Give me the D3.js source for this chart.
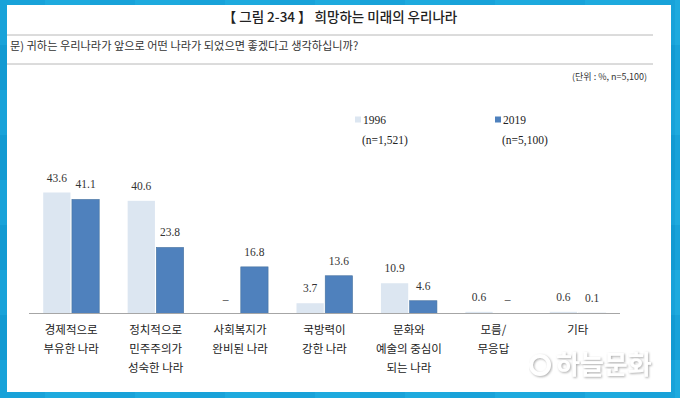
<!DOCTYPE html>
<html>
<head>
<meta charset="utf-8">
<script src="https://cdn.jsdelivr.net/npm/d3@7"></script>
<style>
  body { margin: 0; background: #1aa3da; }
  svg { display: block; }
</style>
</head>
<body>
<div id="chart"></div>
<script>
const width = 680;
const height = 398;

const categories = [
  ["경제적으로", "부유한 나라"],
  ["정치적으로", "민주주의가", "성숙한 나라"],
  ["사회복지가", "완비된 나라"],
  ["국방력이", "강한 나라"],
  ["문화와", "예술의 중심이", "되는 나라"],
  ["모름/", "무응답"],
  ["기타"]
]
const series = ["1996", "2019"]
const seriesN = ["(n=1,521)", "(n=5,100)"]
const values1996 = [43.6, 40.6, null, 3.7, 10.9, 0.6, 0.6]
const values2019 = [41.1, 23.8, 16.8, 13.6, 4.6, null, 0.1]

const colors = { "1996": "#dce6f1", "2019": "#4f81bd" }

const svg = d3.select("#chart").append("svg").attr("width", width).attr("height", height)

// blue tiled frame
const defs = svg.append("defs")
const pat = defs.append("pattern")
                .attr("id", "tiles")
                .attr("patternUnits", "userSpaceOnUse")
                .attr("width", 90)
                .attr("height", 90)
pat.append("rect").attr("width", 90).attr("height", 90).attr("fill", "#18a2d9")
pat.append("rect").attr("x", 45).attr("width", 45).attr("height", 45).attr("fill", "#1eaade")
pat.append("rect").attr("y", 45).attr("width", 45).attr("height", 45).attr("fill", "#129ad2")

svg.append("rect").attr("width", width).attr("height", height).attr("fill", "url(#tiles)")

const shadow = defs.append("filter").attr("id", "wm").attr("x", "-10%").attr("y", "-20%").attr("width", "130%").attr("height", "150%")
shadow.append("feDropShadow").attr("dx", 1).attr("dy", 1).attr("stdDeviation", 1.2).attr("flood-color", "#999").attr("flood-opacity", 0.8)

svg.append("rect")
   .attr("x", 7).attr("y", 5)
   .attr("width", 664).attr("height", 387)
   .attr("fill", "white")

// header
svg.append("text")
   .attr("x", 340).attr("y", 22)
   .attr("text-anchor", "middle")
   .style("font-family", "Noto Sans CJK KR")
   .style("font-size", "13.5px")
   .style("font-weight", 500)
   .attr("fill", "#222")
   .text("【 그림 2-34 】 희망하는 미래의 우리나라")

svg.selectAll("line.rule")
   .data([35, 64])
   .enter()
   .append("line")
   .attr("class", "rule")
   .attr("x1", 7).attr("x2", 653)
   .attr("y1", d => d).attr("y2", d => d)
   .attr("stroke", "#b8b8b8")
   .attr("stroke-width", 1)

svg.append("text")
   .attr("x", 10).attr("y", 50)
   .style("font-family", "Noto Sans CJK KR")
   .style("font-size", "11.2px")
   .attr("fill", "#333")
   .text("문) 귀하는 우리나라가 앞으로 어떤 나라가 되었으면 좋겠다고 생각하십니까?")

svg.append("text")
   .attr("x", 647).attr("y", 80)
   .attr("text-anchor", "end")
   .style("font-family", "Noto Sans CJK KR")
   .style("font-size", "9px")
   .attr("fill", "#333")
   .text("(단위 : %, n=5,100)")

// scales
const xScale = d3.scaleBand()
                 .domain(d3.range(categories.length))
                 .range([29, 620])

const xInner = d3.scaleBand()
                 .domain(series)
                 .range([0, 56])
                 .paddingInner(0.05)

const yScale = d3.scaleLinear()
                 .domain([0, 43.6])
                 .range([313.5, 192.5])

const cells = []
categories.forEach((c, i) => {
    cells.push({ idx: i, year: "1996", value: values1996[i] })
    cells.push({ idx: i, year: "2019", value: values2019[i] })
})

const barX = d => xScale(d.idx) + xScale.bandwidth() / 2 - 28 + xInner(d.year)

svg.selectAll("rect.bar")
   .data(cells.filter(d => d.value !== null))
   .enter()
   .append("rect")
   .attr("class", "bar")
   .attr("x", barX)
   .attr("y", d => yScale(d.value))
   .attr("width", xInner.bandwidth())
   .attr("height", d => yScale(0) - yScale(d.value))
   .attr("fill", d => colors[d.year])
   .attr("stroke", d => d.year === "2019" ? "#45719f" : "none")
   .attr("stroke-width", 0.6)

svg.selectAll("text.val")
   .data(cells)
   .enter()
   .append("text")
   .attr("class", "val")
   .attr("x", d => barX(d) + xInner.bandwidth() / 2)
   .attr("y", d => yScale(d.value === null ? 0 : d.value) - 11)
   .attr("text-anchor", "middle")
   .style("font-family", "Liberation Serif")
   .style("font-size", "11.5px")
   .attr("fill", "#333")
   .text(d => d.value === null ? "–" : d.value.toFixed(1))

svg.append("line")
   .attr("x1", 29).attr("x2", 620)
   .attr("y1", yScale(0)).attr("y2", yScale(0))
   .attr("stroke", "#a6a6a6")
   .attr("stroke-width", 1.2)

// category labels
const labels = svg.selectAll("text.cat")
                  .data(categories)
                  .enter()
                  .append("text")
                  .attr("class", "cat")
                  .attr("text-anchor", "middle")
                  .style("font-family", "Noto Sans CJK KR")
                  .style("font-size", "11.5px")
                  .attr("fill", "#222")

labels.selectAll("tspan")
      .data((d, i) => d.map(t => ({ t: t, i: i })))
      .enter()
      .append("tspan")
      .attr("x", d => xScale(d.i) + xScale.bandwidth() / 2)
      .attr("y", (d, j) => 334 + j * 19)
      .text(d => d.t)

// legend
const legend = svg.selectAll("g.legend")
                  .data(series)
                  .enter()
                  .append("g")
                  .attr("class", "legend")
                  .attr("transform", (d, i) => `translate(${355 + i * 140}, 120)`)

legend.append("rect")
      .attr("x", 0).attr("y", -3.5)
      .attr("width", 6).attr("height", 6)
      .attr("fill", d => colors[d])

legend.append("text")
      .attr("x", 8).attr("y", 4)
      .style("font-family", "Liberation Serif")
      .style("font-size", "11.5px")
      .attr("fill", "#222")
      .text(d => d)

legend.append("text")
      .attr("x", 7).attr("y", 24)
      .style("font-family", "Liberation Serif")
      .style("font-size", "11.5px")
      .attr("fill", "#222")
      .text((d, i) => seriesN[i])

// watermark
svg.append("text")
   .attr("x", 556).attr("y", 374)
   .style("font-family", "Noto Sans CJK KR")
   .style("font-size", "26px")
   .style("font-weight", 700)
   .attr("fill", "#ffffff")
   .attr("filter", "url(#wm)")
   .text("하늘문화")

svg.append("circle")
   .attr("cx", 540).attr("cy", 365)
   .attr("r", 9)
   .attr("fill", "none")
   .attr("stroke", "#ffffff")
   .attr("stroke-width", 4)
   .attr("filter", "url(#wm)")
</script>
</body>
</html>
